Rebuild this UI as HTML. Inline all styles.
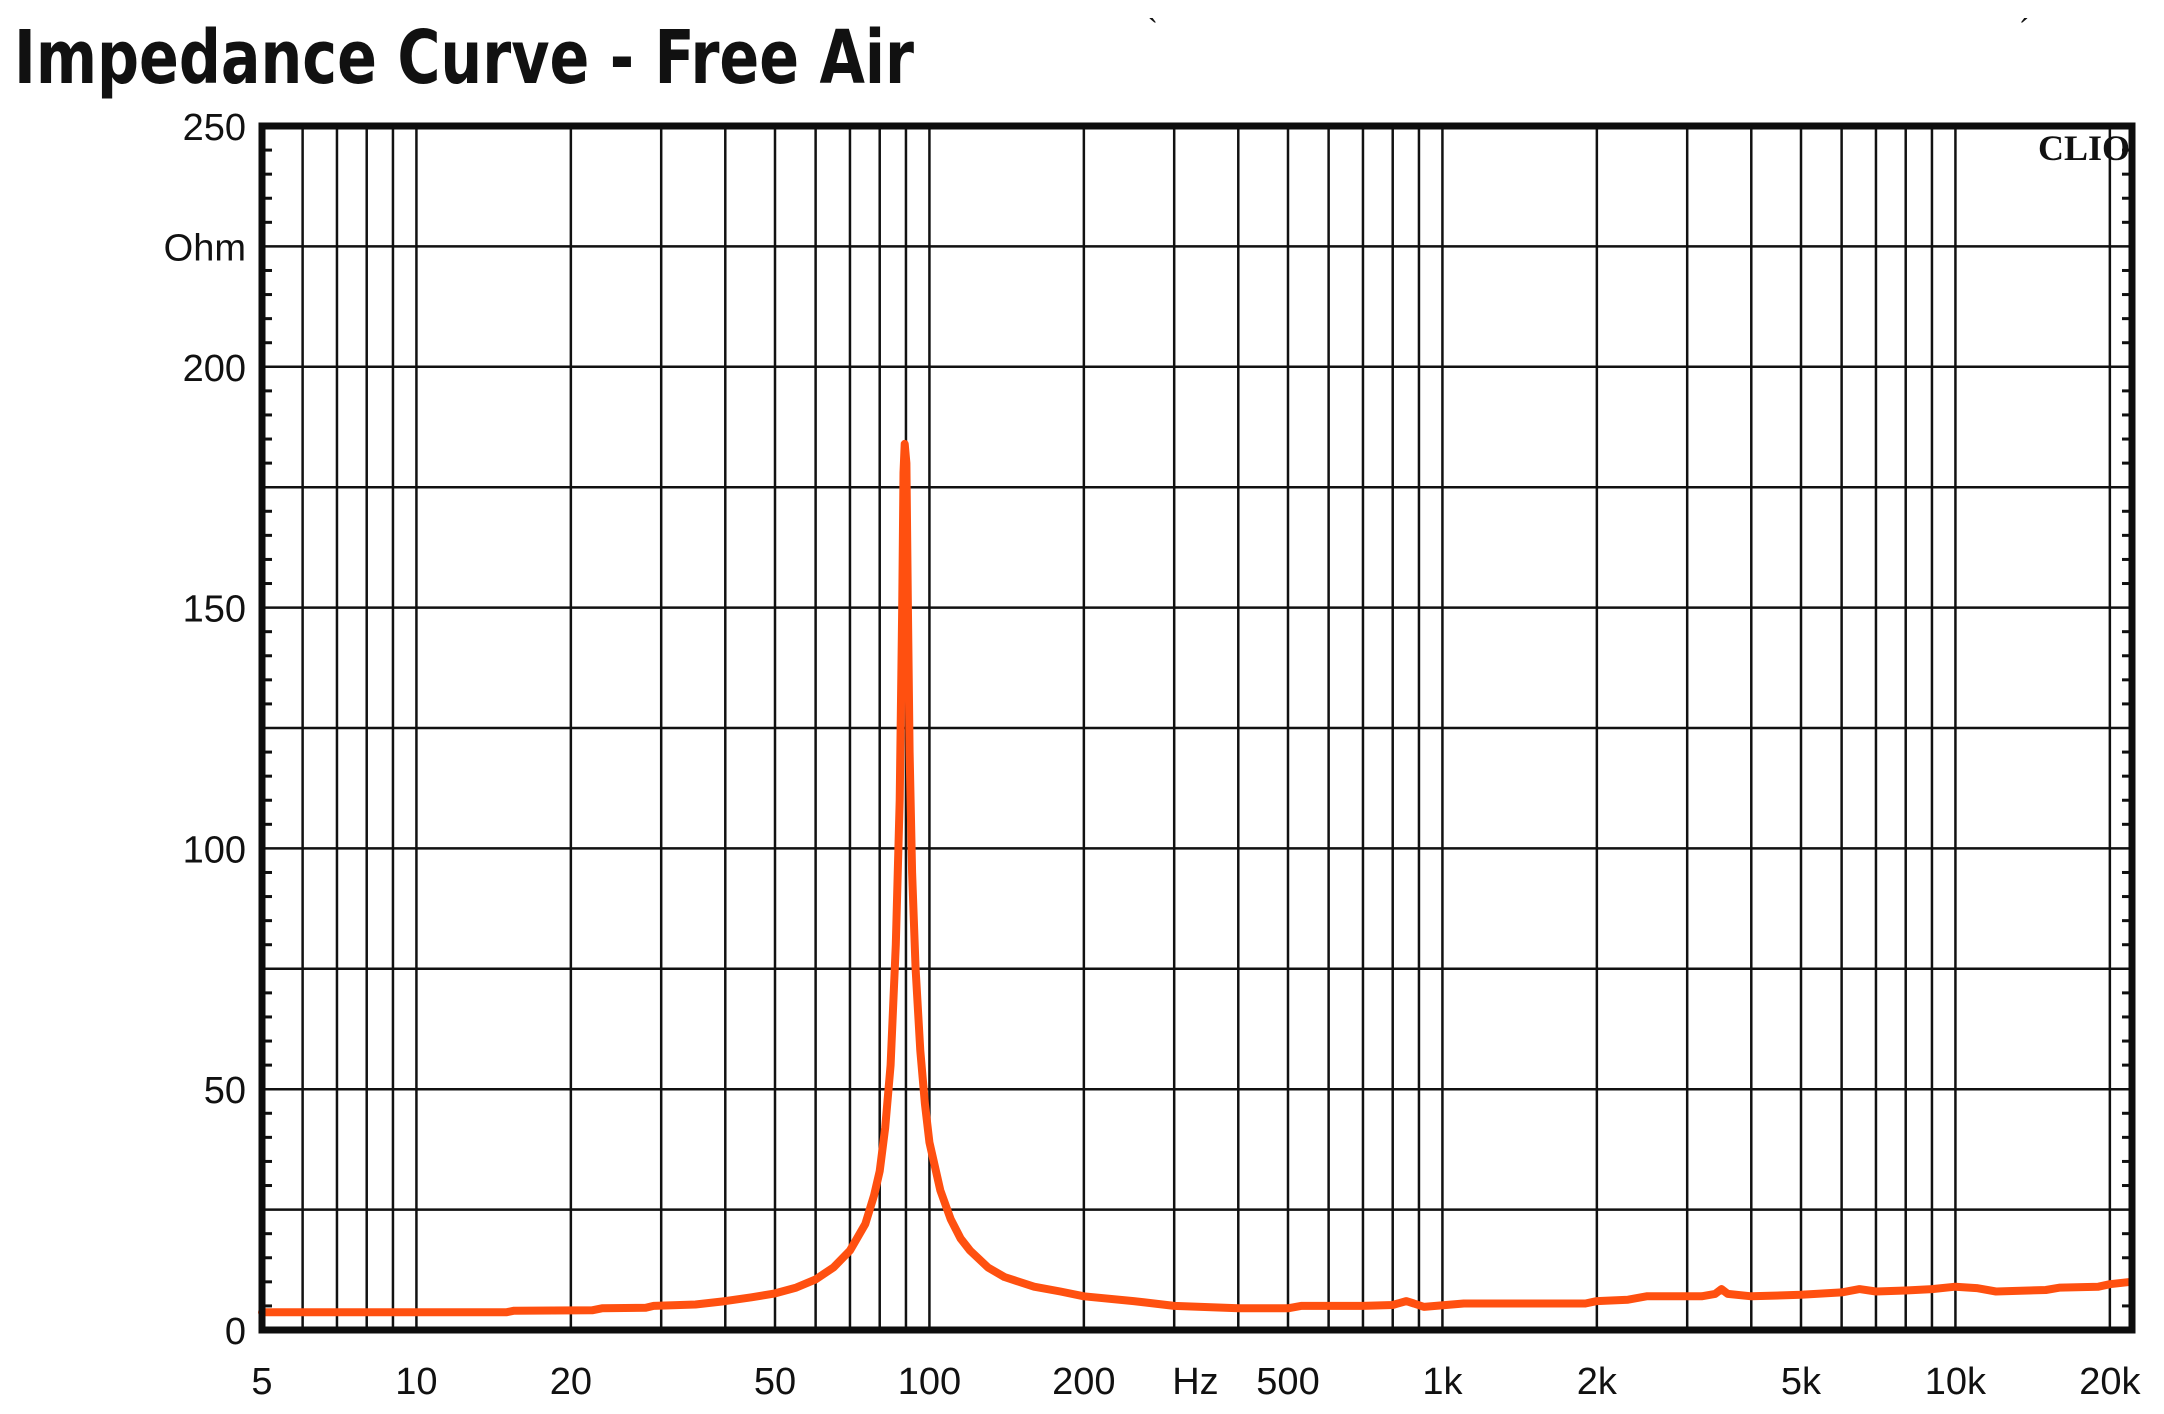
<!DOCTYPE html>
<html><head><meta charset="utf-8"><style>
html,body{margin:0;padding:0;background:#fff;}
svg{display:block;}
</style></head><body>
<svg id="s" xmlns="http://www.w3.org/2000/svg" width="2164" height="1414" viewBox="0 0 2164 1414">
<rect width="2164" height="1414" fill="#fff"/>
<text x="14" y="83" font-family="'DejaVu Sans Condensed','Liberation Sans Narrow','Liberation Sans',sans-serif" font-size="74" font-weight="bold" fill="#111" textLength="900" lengthAdjust="spacingAndGlyphs">Impedance Curve - Free Air</text>
<text x="1148" y="40" font-family="'Liberation Sans',sans-serif" font-size="30" fill="#111">`</text>
<text x="2020" y="40" font-family="'Liberation Sans',sans-serif" font-size="30" fill="#111">´</text>
<g id="grid"></g>
<g id="labels" font-family="'Liberation Sans',sans-serif" font-size="38" fill="#111"></g>
<path id="curve" fill="none" stroke="#ff5010" stroke-width="8" stroke-linejoin="round" stroke-linecap="round"/>
<rect x="262" y="126" width="1870" height="1204" fill="none" stroke="#0d0d0d" stroke-width="7"/>
<text x="2130" y="160" text-anchor="end" font-family="'Liberation Serif',serif" font-weight="bold" font-size="36" fill="#111">CLIO</text>
</svg>
<script>
var L=262,R=2132,T=126,B=1330,D=513;
function X(f){return L+(Math.log10(f)-Math.log10(5))*D;}
function Y(z){return B-(z/250)*(B-T);}
var g='';
var fs=[6,7,8,9,10,20,30,40,50,60,70,80,90,100,200,300,400,500,600,700,800,900,1000,2000,3000,4000,5000,6000,7000,8000,9000,10000,20000];
fs.forEach(function(f){var x=X(f);g+='<line x1="'+x+'" y1="'+T+'" x2="'+x+'" y2="'+B+'" stroke="#111" stroke-width="2.5"/>';});
for(var z=25;z<250;z+=25){var y=Y(z);g+='<line x1="'+L+'" y1="'+y+'" x2="'+R+'" y2="'+y+'" stroke="#111" stroke-width="2.5"/>';}
for(var z=5;z<250;z+=5){if(z%25==0)continue;var y=Y(z);g+='<line x1="'+L+'" y1="'+y+'" x2="'+(L+10)+'" y2="'+y+'" stroke="#111" stroke-width="3"/><line x1="'+(R-10)+'" y1="'+y+'" x2="'+R+'" y2="'+y+'" stroke="#111" stroke-width="3"/>';}
document.getElementById('grid').innerHTML=g;
var l='';
[[250,'250'],[225,'Ohm'],[200,'200'],[150,'150'],[100,'100'],[50,'50'],[0,'0']].forEach(function(a){l+='<text x="246" y="'+(Y(a[0])+14)+'" text-anchor="end">'+a[1]+'</text>';});
[[5,'5'],[10,'10'],[20,'20'],[50,'50'],[100,'100'],[200,'200'],[330,'Hz'],[500,'500'],[1000,'1k'],[2000,'2k'],[5000,'5k'],[10000,'10k'],[20000,'20k']].forEach(function(a){l+='<text x="'+X(a[0])+'" y="1394" text-anchor="middle">'+a[1]+'</text>';});
document.getElementById('labels').innerHTML=l;
var t=[[5,3.7],[15,3.7],[15.5,4.0],[22,4.1],[23,4.5],[28,4.6],[29,5.0],[35,5.3],[40,6],[45,6.8],[50,7.6],[55,8.8],[60,10.5],[65,13],[70,16.5],[75,22],[78,28],[80,33],[82,42],[84,55],[86,80],[87.5,110],[88.5,150],[89,178],[89.5,184],[90.2,180],[90.8,150],[91.5,120],[92.5,95],[94,75],[96,58],[98,47],[100,39],[105,29],[110,23],[115,19],[120,16.5],[130,13],[140,11],[160,9],[180,8],[200,7],[250,6],[300,5],[400,4.5],[500,4.5],[530,5],[700,5],[800,5.2],[850,6],[880,5.5],[920,4.8],[1100,5.5],[1900,5.5],[2000,6],[2300,6.3],[2500,7],[3200,7],[3400,7.5],[3500,8.5],[3600,7.5],[4000,7],[5000,7.3],[6000,7.8],[6500,8.5],[7000,8],[8000,8.2],[9000,8.5],[10000,9],[11000,8.7],[12000,8],[15000,8.3],[16000,8.8],[19000,9],[20000,9.5],[22000,10]];
var d='';t.forEach(function(p,i){d+=(i?'L':'M')+X(p[0]).toFixed(1)+' '+Y(p[1]).toFixed(1)+' ';});
document.getElementById('curve').setAttribute('d',d);
</script>
</body></html>
